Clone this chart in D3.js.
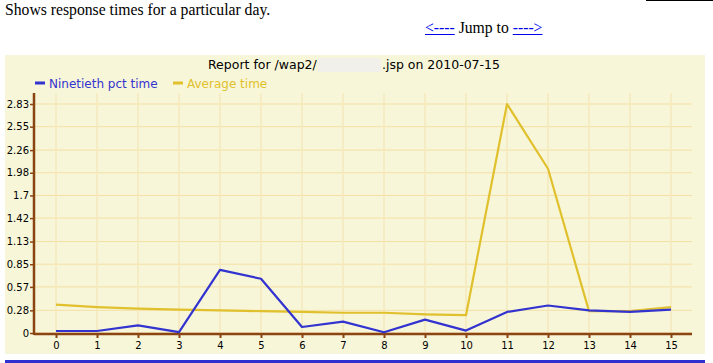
<!DOCTYPE html>
<html>
<head>
<meta charset="utf-8">
<script src="https://cdn.jsdelivr.net/npm/d3@7"></script>
<style>
  body { margin: 0; background: white; font-family: "Liberation Serif", serif; }
  #intro { position: absolute; left: 5px; top: 1px; font-size: 15.7px; }
  #jump { position: absolute; left: 425px; top: 19px; font-size: 15.7px; }
  #jump a { color: #0000ee; }
  #topline { position: absolute; left: 646px; top: 0; width: 67px; height: 1px; background: black; }
  #chart { position: absolute; left: 0; top: 0; }
</style>
</head>
<body>
<div id="topline"></div>
<div id="intro">Shows response times for a particular day.</div>
<div id="jump"><a href="#">&lt;----</a> Jump to <a href="#">----&gt;</a></div>
<div id="chart"></div>
<script>
// hours of the day
let hours = [0, 1, 2, 3, 4, 5, 6, 7, 8, 9, 10, 11, 12, 13, 14, 15];
let ninetieth = [0.025, 0.025, 0.095, 0.01, 0.78, 0.67, 0.074, 0.14, 0.01, 0.165, 0.03, 0.26, 0.34, 0.28, 0.26, 0.29];
let average = [0.35, 0.32, 0.30, 0.29, 0.28, 0.27, 0.26, 0.25, 0.25, 0.23, 0.22, 2.83, 2.03, 0.27, 0.27, 0.32];
let yTicks = [0, 0.28, 0.57, 0.85, 1.13, 1.42, 1.7, 1.98, 2.26, 2.55, 2.83];
let seriesNames = ["Ninetieth pct time", "Average time"];

let colors = ["#3333d0", "#e0c02c"];

let w = 713, h = 363;
let svg = d3.select("#chart").append("svg")
    .attr("width", w)
    .attr("height", h)
    .style("font-family", "'DejaVu Sans', sans-serif");

// panel
svg.append("rect").attr("x", 5).attr("y", 55).attr("width", 700).attr("height", 299)
    .style("fill", "#f8f6d8");
svg.append("rect").attr("x", 5).attr("y", 360).attr("width", 700).attr("height", 3)
    .style("fill", "#3030d0");

// title (file name blanked out like the original)
let t1 = svg.append("text").attr("x", 208).attr("y", 69).style("font-size", "12.5px")
    .text("Report for /wap2/");
let t2 = svg.append("text").attr("x", 500).attr("y", 69).style("font-size", "12.5px")
    .attr("text-anchor", "end").text(".jsp on 2010-07-15");
let end1 = 208 + t1.node().getComputedTextLength();
let start2 = 500 - t2.node().getComputedTextLength();
svg.append("rect").attr("x", end1 + 1).attr("y", 58).attr("width", Math.max(0, start2 - end1 - 2)).attr("height", 14)
    .style("fill", "#f2f0ea");

// legend
let legend = svg.append("g");
seriesNames.forEach(function(name, i) {
  let lx = i == 0 ? 35 : 173;
  legend.append("line").attr("x1", lx).attr("x2", lx + 10).attr("y1", 83).attr("y2", 83)
      .style("stroke", colors[i]).style("stroke-width", 3);
  legend.append("text").attr("x", lx + 14).attr("y", 87.5).style("font-size", "12px")
      .style("fill", colors[i]).text(name);
});

let x = d3.scaleLinear().domain([0, 15]).range([56, 671]);
let y = d3.scaleLinear().domain([0, 2.83]).range([333, 104]);

// grid
svg.append("g").selectAll("line").data(yTicks).enter().append("line")
    .attr("x1", 34).attr("x2", 692)
    .attr("y1", d => y(d)).attr("y2", d => y(d))
    .style("stroke", "#f4dfa4").style("stroke-width", 1);
svg.append("g").selectAll("line").data(hours).enter().append("line")
    .attr("x1", d => x(d)).attr("x2", d => x(d))
    .attr("y1", 93).attr("y2", 333)
    .style("stroke", "#f4e8bc").style("stroke-width", 1.5);

// axes
let xAxis = svg.append("g")
    .attr("transform", "translate(0,334)")
    .call(d3.axisBottom(x).tickValues(hours).tickSize(4).tickFormat(d3.format("d")));
xAxis.select(".domain").remove();
xAxis.selectAll(".tick line").style("stroke", "#8b4513").style("stroke-width", 2);
xAxis.selectAll("text").style("font-size", "10px").style("font-family", "'DejaVu Sans', sans-serif")
    .attr("y", 8);
svg.append("line").attr("x1", 34).attr("x2", 692).attr("y1", 334).attr("y2", 334)
    .style("stroke", "#8b4513").style("stroke-width", 2.5);

let yAxis = svg.append("g")
    .attr("transform", "translate(34,0)")
    .call(d3.axisLeft(y).tickValues(yTicks).tickSize(4).tickFormat(d => d));
yAxis.select(".domain").remove();
yAxis.selectAll(".tick line").style("stroke", "#8b4513").style("stroke-width", 1.5);
yAxis.selectAll("text").style("font-size", "10px").style("font-family", "'DejaVu Sans', sans-serif")
    .attr("x", -5);
svg.append("line").attr("x1", 34).attr("x2", 34).attr("y1", 93).attr("y2", 335)
    .style("stroke", "#8b4513").style("stroke-width", 2.5);

// lines
let line = d3.line().x((d, i) => x(hours[i])).y(d => y(d));
[average, ninetieth].forEach(function(s, k) {
  svg.append("path").datum(s).attr("d", line)
      .style("fill", "none")
      .style("stroke", k == 0 ? colors[1] : colors[0])
      .style("stroke-width", 2.2)
      .style("stroke-linejoin", "round");
});
</script>
</body>
</html>
